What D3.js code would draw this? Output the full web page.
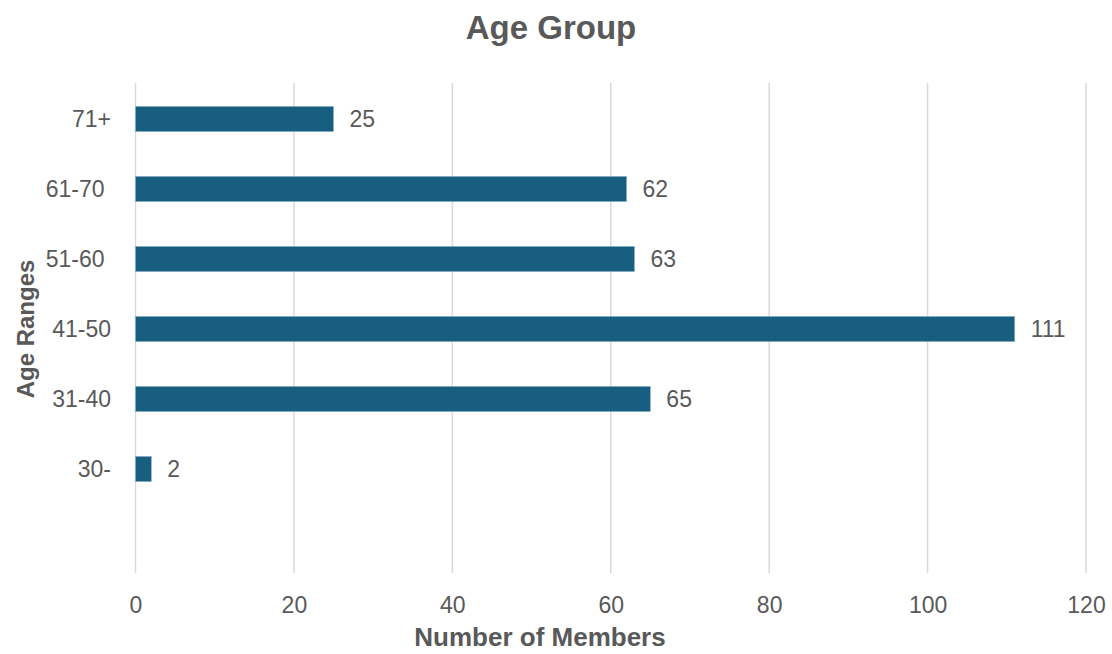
<!DOCTYPE html>
<html>
<head>
<meta charset="utf-8">
<script src="https://cdn.jsdelivr.net/npm/d3@7"></script>
<style>
  body { margin: 0; background: #fff; }
  text { font-family: "Liberation Sans", Arial, sans-serif; fill: #595959; }
</style>
</head>
<body>
<div id="chart-area"></div>
<script>
// categories as they appear top to bottom, the last slot is an empty one
let ageRanges = ["71+", "61-70 ", "51-60 ", "41-50", "31-40", "30-", " "];
let members = [25, 62, 63, 111, 65, 2, null];
let xTicks = [0, 20, 40, 60, 80, 100, 120];

let width = 1112, height = 654;
let plotLeft = 135.5, plotRight = 1086, plotTop = 84, plotBottom = 574;

let svg = d3.select("#chart-area").append("svg")
	.attr("width", width)
	.attr("height", height)

let x = d3.scaleLinear().domain([0, 120]).range([plotLeft, plotRight]);
let y = d3.scaleBand().domain(ageRanges).range([plotTop, plotBottom]).paddingInner(0.64).paddingOuter(0.32);

// gridlines
svg.selectAll("line.grid")
	.data(xTicks)
	.enter().append("line")
	.attr("class", "grid")
	.attr("x1", d => x(d)).attr("x2", d => x(d))
	.attr("y1", plotTop - 1).attr("y2", plotBottom - 1)
	.attr("stroke", "#d9d9d9")
	.attr("stroke-width", 1.5)

// x axis labels
let xAxis = svg.append("g")
	.attr("transform", "translate(0," + (plotBottom + 23) + ")")
	.call(d3.axisBottom(x).tickValues(xTicks).tickSize(0).tickPadding(0))
xAxis.select(".domain").remove();
xAxis.selectAll("text")
	.attr("dy", "0.71em")
	.style("font-size", "23px")
	.style("font-family", "Liberation Sans, Arial, sans-serif")
	.style("fill", "#595959")

// y axis labels
let yAxis = svg.append("g")
	.attr("transform", "translate(" + 111 + ",0)")
	.call(d3.axisLeft(y).tickSize(0).tickPadding(0))
yAxis.select(".domain").remove();
yAxis.selectAll("text")
	.attr("x", 0)
	.attr("dy", "0.35em")
	.attr("text-anchor", "end")
	.style("white-space", "pre")
	.style("font-size", "23px")
	.style("font-family", "Liberation Sans, Arial, sans-serif")
	.style("fill", "#595959")

let rows = ageRanges.map((a, i) => ({ age: a, n: members[i] })).filter(d => d.n != null);

// bars
svg.selectAll("rect.bar")
	.data(rows)
	.enter().append("rect")
	.attr("class", "bar")
	.attr("x", x(0))
	.attr("y", d => y(d.age))
	.attr("width", d => x(d.n) - x(0))
	.attr("height", y.bandwidth())
	.attr("fill", "#175e80")
	.attr("stroke", "#8fb4c7")
	.attr("stroke-width", 0.6)

// data labels
svg.selectAll("text.value")
	.data(rows)
	.enter().append("text")
	.attr("class", "value")
	.attr("x", d => x(d.n) + 16)
	.attr("y", d => y(d.age) + y.bandwidth() / 2)
	.attr("dy", "0.35em")
	.style("font-size", "23px")
	.text(d => d.n)

// titles
svg.append("text")
	.attr("x", 551).attr("y", 39)
	.attr("text-anchor", "middle")
	.style("font-size", "33px")
	.style("font-weight", "bold")
	.text("Age Group")

svg.append("text")
	.attr("x", 540).attr("y", 646)
	.attr("text-anchor", "middle")
	.style("font-size", "26px")
	.style("font-weight", "bold")
	.text("Number of Members")

svg.append("text")
	.attr("transform", "translate(34,329) rotate(-90)")
	.attr("text-anchor", "middle")
	.style("font-size", "24px")
	.style("font-weight", "bold")
	.text("Age Ranges")
</script>
</body>
</html>
